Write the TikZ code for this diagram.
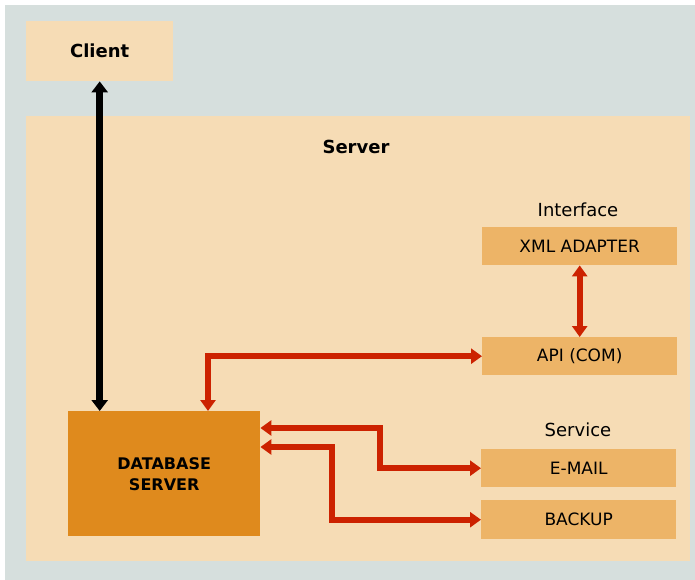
\documentclass[tikz,border=0pt]{standalone}
\usepackage{fontspec}
\setmainfont{DejaVu Sans}
\usetikzlibrary{arrows.meta,calc}
\definecolor{bggray}{HTML}{D6DFDD}
\definecolor{beige}{HTML}{F6DCB5}
\definecolor{svcbox}{HTML}{EDB467}
\definecolor{dbbox}{HTML}{DF8A1D}
\definecolor{redline}{HTML}{CC2200}
\tikzset{
  region/.style={fill=beige, draw=none, inner sep=0pt, anchor=north west},
  itembox/.style={fill=svcbox, draw=none, inner sep=0pt, anchor=north west,
    minimum width=195pt, minimum height=38pt, font=\fontsize{17}{19}\selectfont},
  dbnode/.style={fill=dbbox, draw=none, inner sep=0pt, anchor=north west,
    minimum width=192pt, minimum height=125pt, align=center,
    font=\bfseries\fontsize{16}{21}\selectfont},
  grouplabel/.style={font=\fontsize{18}{20}\selectfont},
  boldlabel/.style={font=\bfseries\fontsize{18}{20}\selectfont},
  tip/.style={Triangle[length=11pt,width=15pt]},
  blackarrow/.style={draw=black, line width=6.5pt, {Triangle[length=11pt,width=16pt]}-{Triangle[length=11pt,width=16pt]}, shorten <=0pt, shorten >=0pt},
  redarrow/.style={draw=redline, line width=6pt, {Triangle[length=11pt,width=15pt]}-{Triangle[length=11pt,width=15pt]}},
}
\begin{document}
\begin{tikzpicture}[x=1pt,y=-1pt]
\useasboundingbox (0,0) rectangle (695,580);
\fill[bggray] (5,5) rectangle (695,580);
\node[region, minimum width=147pt, minimum height=60pt, boldlabel] (client) at (26,21) {Client};
\node[region, minimum width=664pt, minimum height=445pt] (server) at (26,116) {};
\node[boldlabel] (serverlabel) at (356,147) {Server};
\node[grouplabel] (interface) at (578,210) {Interface};
\node[itembox] (xml) at (482,227) {XML ADAPTER};
\node[itembox] (api) at (482,337) {API (COM)};
\node[grouplabel] (service) at (578,430) {Service};
\node[itembox] (email) at (481,449) {E-MAIL};
\node[itembox, minimum height=39pt] (backup) at (481,500) {BACKUP};
\node[dbnode] (db) at (68,411) {DATABASE\\SERVER};
% connectors
\draw[blackarrow] (client.south) -- (client.south |- db.north);
\draw[redarrow] ($(db.north west)+(140,0)$) |- (api.west);
\draw[redarrow] (xml.south) -- (api.north);
\draw[redarrow] ($(db.north east)+(0,17)$) -- ++(120,0) |- (email.west);
\draw[redarrow] ($(db.north east)+(0,36)$) -- ++(72,0) |- (backup.west);
\end{tikzpicture}
\end{document}
